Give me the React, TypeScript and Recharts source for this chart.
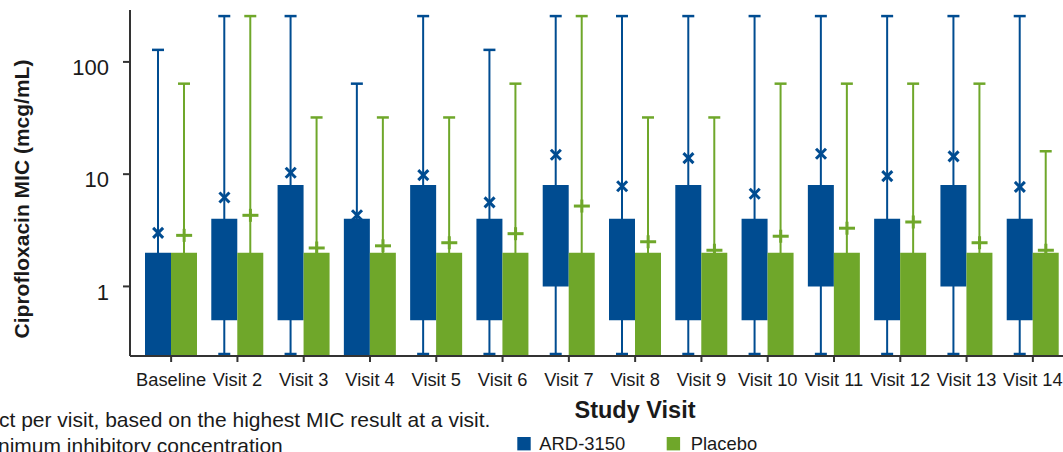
import React from 'react'
import { ComposedChart, Bar, Scatter, XAxis, YAxis } from 'recharts'

const visits = [
  'Baseline', 'Visit 2', 'Visit 3', 'Visit 4', 'Visit 5', 'Visit 6', 'Visit 7',
  'Visit 8', 'Visit 9', 'Visit 10', 'Visit 11', 'Visit 12', 'Visit 13', 'Visit 14'
]

// ARD-3150 distribution per visit (mcg/mL)
const ardMin = [0.24, 0.25, 0.25, 0.24, 0.25, 0.25, 0.25, 0.25, 0.25, 0.25, 0.25, 0.25, 0.25, 0.25]
const ardQ1 = [0.24, 0.5, 0.5, 0.24, 0.5, 0.5, 1, 0.5, 0.5, 0.5, 1, 0.5, 1, 0.5]
const ardQ3 = [2, 4, 8, 4, 8, 4, 8, 4, 8, 4, 8, 4, 8, 4]
const ardMax = [128, 256, 256, 64, 256, 128, 256, 256, 256, 256, 256, 256, 256, 256]
const ardMean = [3.0, 6.2, 10.3, 4.3, 9.8, 5.6, 14.9, 7.8, 13.9, 6.7, 15.2, 9.6, 14.4, 7.7]

// Placebo distribution per visit (mcg/mL)
const placeboMin = [0.24, 0.24, 0.24, 0.24, 0.24, 0.24, 0.24, 0.24, 0.24, 0.24, 0.24, 0.24, 0.24, 0.24]
const placeboQ1 = [0.24, 0.24, 0.24, 0.24, 0.24, 0.24, 0.24, 0.24, 0.24, 0.24, 0.24, 0.24, 0.24, 0.24]
const placeboQ3 = [2, 2, 2, 2, 2, 2, 2, 2, 2, 2, 2, 2, 2, 2]
const placeboMax = [64, 256, 32, 32, 32, 64, 256, 32, 32, 64, 64, 64, 64, 16]
const placeboMean = [2.85, 4.3, 2.2, 2.3, 2.45, 2.95, 5.2, 2.5, 2.1, 2.8, 3.3, 3.75, 2.45, 2.1]

const yTicks = [1, 10, 100]

const BLUE = '#004C91'
const GREEN = '#6FA72A'
const AXIS = '#333333'
const FONT = '"Liberation Sans", Arial, sans-serif'
const BAR = 26

const rows = visits.map((visit, i) => ({
  visit,
  ardBox: [ardQ1[i], ardQ3[i]],
  ardRange: [ardMin[i], ardMax[i]],
  ardMean: ardMean[i],
  placeboBox: [placeboQ1[i], placeboQ3[i]],
  placeboRange: [placeboMin[i], placeboMax[i]],
  placeboMean: placeboMean[i]
}))

const whisker = (color: string) => (props: any) => {
  const { x, y, width, height } = props
  const cx = x + width / 2
  return (
    <g>
      <line x1={cx} x2={cx} y1={y} y2={y + height} stroke={color} strokeWidth={2} />
      <line x1={cx - 6} x2={cx + 6} y1={y} y2={y} stroke={color} strokeWidth={2.5} />
      <line x1={cx - 6} x2={cx + 6} y1={y + height} y2={y + height} stroke={color} strokeWidth={2.5} />
    </g>
  )
}

const cross = (props: any) => {
  const cx = props.cx - BAR / 2
  const { cy } = props
  return (
    <g stroke={BLUE} strokeWidth={3}>
      <line x1={cx - 5} y1={cy - 5} x2={cx + 5} y2={cy + 5} />
      <line x1={cx - 5} y1={cy + 5} x2={cx + 5} y2={cy - 5} />
    </g>
  )
}

const plus = (props: any) => {
  const cx = props.cx + BAR / 2
  const { cy } = props
  return (
    <g stroke={GREEN} strokeWidth={3}>
      <line x1={cx - 8} y1={cy} x2={cx + 8} y2={cy} />
      <line x1={cx} y1={cy - 6.5} x2={cx} y2={cy + 6.5} />
    </g>
  )
}

const XTick = (props: any) => (
  <text x={props.x} y={props.y + 22} textAnchor="middle" fontSize={18.3} fontFamily={FONT} fill="#1a1a1a">
    {props.payload.value}
  </text>
)

const YTick = (props: any) => (
  <text x={props.x} y={props.y + 13.3} textAnchor="end" fontSize={22} fontFamily={FONT} fill="#1a1a1a">
    {props.payload.value}
  </text>
)

export default function App() {
  return (
    <div style={{ position: 'fixed', left: 0, top: 0, width: 1063, height: 452, overflow: 'hidden', background: '#fff' }}>
      <ComposedChart
        width={1074}
        height={452}
        data={rows}
        margin={{ top: 10, right: 0, bottom: 66, left: 0 }}
        barGap={0}
        barSize={BAR}
      >
        <XAxis
          dataKey="visit"
          padding={{ left: 8, right: 8 }}
          height={30}
          tickSize={6}
          interval={0}
          tick={<XTick />}
          axisLine={{ stroke: AXIS, strokeWidth: 2 }}
          tickLine={{ stroke: AXIS, strokeWidth: 2 }}
        />
        <XAxis xAxisId="w" dataKey="visit" padding={{ left: 8, right: 8 }} hide />
        <YAxis
          scale="log"
          domain={[0.24, 290]}
          allowDataOverflow
          ticks={yTicks}
          width={130}
          tickSize={7}
          tickMargin={14}
          tick={<YTick />}
          axisLine={{ stroke: AXIS, strokeWidth: 2 }}
          tickLine={{ stroke: AXIS, strokeWidth: 2 }}
        />
        {/* whiskers sit on a hidden twin axis so they share the box positions */}
        <Bar xAxisId="w" dataKey="ardRange" fill={BLUE} shape={whisker(BLUE)} isAnimationActive={false} />
        <Bar xAxisId="w" dataKey="placeboRange" fill={GREEN} shape={whisker(GREEN)} isAnimationActive={false} />
        <Bar dataKey="ardBox" fill={BLUE} isAnimationActive={false} />
        <Bar dataKey="placeboBox" fill={GREEN} isAnimationActive={false} />
        <Scatter dataKey="ardMean" shape={cross} isAnimationActive={false} />
        <Scatter dataKey="placeboMean" shape={plus} isAnimationActive={false} />
      </ComposedChart>
      <svg width={1063} height={452} style={{ position: 'absolute', left: 0, top: 0, pointerEvents: 'none' }} fontFamily={FONT}>
        <text transform="translate(28.5,199) rotate(-90)" textAnchor="middle" fontWeight="bold" fontSize={21} fill="#1a1a1a">
          Ciprofloxacin MIC (mcg/mL)
        </text>
        <text x={635} y={418.3} textAnchor="middle" fontWeight="bold" fontSize={23.5} fill="#1a1a1a">
          Study Visit
        </text>
        <rect x={517.3} y={437} width={13.4} height={13.4} fill={BLUE} />
        <text x={539.3} y={449.5} fontSize={18.4} fill="#1a1a1a">ARD-3150</text>
        <rect x={666.7} y={437} width={13.4} height={13.4} fill={GREEN} />
        <text x={690.7} y={449.5} fontSize={18.4} fill="#1a1a1a">Placebo</text>
        <text x={-1} y={426.7} fontSize={21} fill="#1a1a1a">ct per visit, based on the highest MIC result at a visit.</text>
        <text x={-2} y={453} fontSize={21} fill="#1a1a1a">nimum inhibitory concentration</text>
      </svg>
    </div>
  )
}
